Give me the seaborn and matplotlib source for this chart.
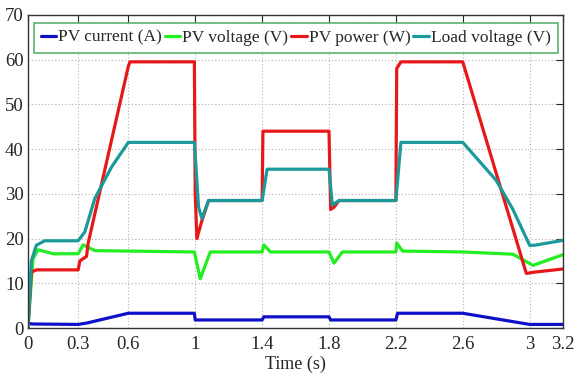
import numpy as np
import pandas as pd
import matplotlib
matplotlib.use("Agg")
import matplotlib.pyplot as plt
import seaborn as sns

# breakpoints (time in s)
t_current = [0, 0.02, 0.3, 0.35, 0.6, 0.995, 1.0, 1.4, 1.41, 1.8, 1.81, 2.2, 2.21, 2.6, 3.0, 3.2]
pv_current = [1.2, 0.9, 0.8, 1.1, 3.3, 3.3, 1.8, 1.8, 2.5, 2.5, 1.8, 1.8, 3.3, 3.3, 0.8, 0.8]

t_voltage = [0, 0.03, 0.06, 0.15, 0.3, 0.33, 0.4, 0.995, 1.03, 1.09, 1.4, 1.41, 1.45, 1.8, 1.83, 1.88,
             2.2, 2.205, 2.24, 2.6, 2.9, 3.02, 3.2]
pv_voltage = [0, 15.5, 17.5, 16.6, 16.6, 18.6, 17.3, 17.0, 11.0, 17.0, 17.0, 18.6, 17.0, 17.0, 14.5, 17.0,
              17.0, 19.0, 17.2, 17.0, 16.5, 14.0, 16.4]

t_power = [0, 0.02, 0.05, 0.3, 0.31, 0.35, 0.36, 0.6, 0.61, 0.995, 1.0, 1.01, 1.04, 1.08, 1.4, 1.405,
           1.8, 1.81, 1.83, 1.86, 2.2, 2.205, 2.23, 2.6, 2.98, 3.03, 3.2]
pv_power = [0, 12.5, 13.0, 13.0, 15.0, 16.0, 19.0, 58.5, 59.5, 59.5, 30.0, 20.0, 24.0, 28.5, 28.5, 44.0,
            44.0, 26.5, 27.0, 28.5, 28.5, 58.0, 59.5, 59.5, 12.2, 12.5, 13.2]

t_load = [0, 0.02, 0.05, 0.1, 0.3, 0.34, 0.4, 0.5, 0.6, 0.995, 1.02, 1.04, 1.08, 1.4, 1.43,
          1.8, 1.82, 1.86, 2.2, 2.23, 2.6, 2.8, 2.9, 3.0, 3.03, 3.2]
load_voltage = [0, 15.0, 18.5, 19.5, 19.5, 21.5, 29.0, 36.0, 41.5, 41.5, 27.0, 24.5, 28.5, 28.5, 35.5,
                35.5, 27.5, 28.5, 28.5, 41.5, 41.5, 33.0, 26.5, 18.5, 18.5, 19.6]

x_ticks = [0, 0.3, 0.6, 1, 1.4, 1.8, 2.2, 2.6, 3, 3.2]
x_ticklabels = ["0", "0.3", "0.6", "1", "1.4", "1.8", "2.2", "2.6", "3", "3.2"]

series = [
    ("PV current (A)", t_current, pv_current, "#1010c8"),
    ("PV voltage (V)", t_voltage, pv_voltage, "#22ee22"),
    ("PV power (W)", t_power, pv_power, "#e81818"),
    ("Load voltage (V)", t_load, load_voltage, "#1a9a9a"),
]

frames = []
for name, t, v, _ in series:
    frames.append(pd.DataFrame({"Time": t, "Value": v, "Signal": name}))
df = pd.concat(frames, ignore_index=True)

sns.set_style("white")
plt.rcParams["font.family"] = ["Liberation Serif", "DejaVu Serif"]

fig = plt.figure(figsize=(5.76, 3.75), dpi=100)
ax = fig.add_axes([0.0486, 0.1253, 0.929, 0.835])

palette = {name: c for name, _, _, c in series}
sns.lineplot(data=df, x="Time", y="Value", hue="Signal", palette=palette,
             sort=False, estimator=None, linewidth=2.3, ax=ax)

ax.set_xlim(0, 3.2)
ax.set_ylim(0, 70)
ax.set_xticks(x_ticks)
ax.set_xticklabels(x_ticklabels)
ax.set_yticks(range(0, 71, 10))
ax.grid(True, linestyle=(0, (1, 2)), color="#b0b0b0", linewidth=0.8)
ax.tick_params(direction="in", length=5, labelsize=13.5, top=True, right=True, pad=3)
ax.tick_params(axis="x", pad=6)
for s in ax.spines.values():
    s.set_color("#333333")
    s.set_linewidth(1.0)
ax.set_xlabel("Time (s)", fontsize=13, labelpad=2)
ax.set_ylabel("")

leg = ax.legend(loc="upper center", ncol=4, fontsize=12.5, frameon=True, fancybox=False,
                bbox_to_anchor=(0.5, 1.0), handlelength=0.9, handletextpad=0.12,
                columnspacing=0.15, borderpad=0.4, borderaxespad=0.45)
leg.get_frame().set_edgecolor("#33a050")
leg.get_frame().set_linewidth(1.2)

fig.savefig("out.png", dpi=100)
